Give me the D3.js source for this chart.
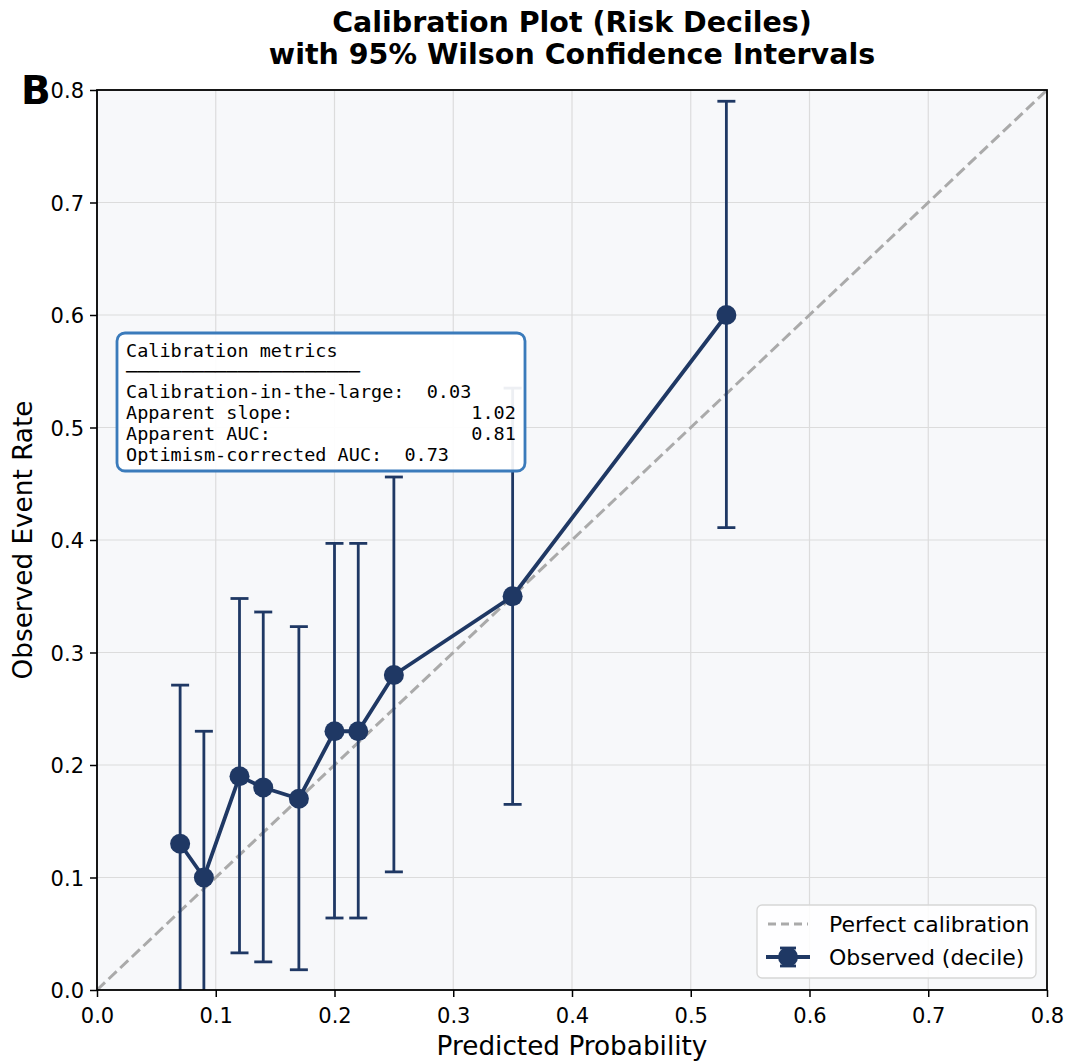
<!DOCTYPE html>
<html>
<head>
<meta charset="utf-8">
<script src="https://cdn.jsdelivr.net/npm/d3@7"></script>
<style>
  body { margin: 0; background: #fff; }
  svg { font-family: "DejaVu Sans", sans-serif; }
</style>
</head>
<body>
<svg id="chart" width="1068" height="1063"></svg>
<script>
// decile data
const predicted = [0.07, 0.09, 0.12, 0.14, 0.17, 0.20, 0.22, 0.25, 0.35, 0.53];
const observed  = [0.13, 0.10, 0.19, 0.18, 0.17, 0.23, 0.23, 0.28, 0.35, 0.60];
const ciLower   = [0.00, 0.00, 0.033, 0.025, 0.018, 0.064, 0.064, 0.105, 0.165, 0.411];
const ciUpper   = [0.271, 0.230, 0.348, 0.336, 0.323, 0.397, 0.397, 0.456, 0.535, 0.790];
const ticks     = [0, 0.1, 0.2, 0.3, 0.4, 0.5, 0.6, 0.7, 0.8];
const metricLines = [
    "Calibration metrics",
    "─".repeat(21),
    "Calibration-in-the-large:  0.03",
    "Apparent slope:                1.02",
    "Apparent AUC:                  0.81",
    "Optimism-corrected AUC:  0.73"
];

const navy = "#1f3864";
const svg = d3.select("#chart");
const margin = {top: 90, right: 21, bottom: 73, left: 97};
const W = 1068, H = 1063;
const w = W - margin.left - margin.right;
const h = H - margin.top - margin.bottom;

const x = d3.scaleLinear().domain([0, 0.8]).range([0, w]);
const y = d3.scaleLinear().domain([0, 0.8]).range([h, 0]);

const rows = predicted.map((p, i) => ({p: p, o: observed[i], lo: ciLower[i], hi: ciUpper[i]}));

const g = svg.append("g").attr("transform", `translate(${margin.left},${margin.top})`);

g.append("rect").attr("width", w).attr("height", h).attr("fill", "#f7f8fa");

// grid
g.selectAll(".gx").data(ticks).enter().append("line")
    .attr("x1", d => x(d)).attr("x2", d => x(d)).attr("y1", 0).attr("y2", h)
    .attr("stroke", "#dcdcdc").attr("stroke-width", 1.2);
g.selectAll(".gy").data(ticks).enter().append("line")
    .attr("y1", d => y(d)).attr("y2", d => y(d)).attr("x1", 0).attr("x2", w)
    .attr("stroke", "#dcdcdc").attr("stroke-width", 1.2);

// perfect calibration
g.append("line")
    .attr("x1", x(0)).attr("y1", y(0)).attr("x2", x(0.8)).attr("y2", y(0.8))
    .attr("stroke", "#aaaaaa").attr("stroke-width", 3).attr("stroke-dasharray", "11,5");

// error bars
const eb = g.selectAll(".eb").data(rows).enter().append("g");
eb.append("line")
    .attr("x1", d => x(d.p)).attr("x2", d => x(d.p))
    .attr("y1", d => y(d.lo)).attr("y2", d => y(d.hi))
    .attr("stroke", navy).attr("stroke-width", 2.8);
eb.append("line")
    .attr("x1", d => x(d.p) - 9).attr("x2", d => x(d.p) + 9)
    .attr("y1", d => y(d.hi)).attr("y2", d => y(d.hi))
    .attr("stroke", navy).attr("stroke-width", 2.8);
eb.filter(d => d.lo > 0).append("line")
    .attr("x1", d => x(d.p) - 9).attr("x2", d => x(d.p) + 9)
    .attr("y1", d => y(d.lo)).attr("y2", d => y(d.lo))
    .attr("stroke", navy).attr("stroke-width", 2.8);

// observed line + markers
const line = d3.line().x(d => x(d.p)).y(d => y(d.o));
g.append("path")
    .datum(rows)
    .attr("d", line).attr("fill", "none")
    .attr("stroke", navy).attr("stroke-width", 3.8);
g.selectAll(".pt").data(rows).enter().append("circle")
    .attr("cx", d => x(d.p)).attr("cy", d => y(d.o))
    .attr("r", 10).attr("fill", navy);

// metrics box
const bx = 117 - margin.left, by = 333 - margin.top;
g.append("rect")
    .attr("x", bx).attr("y", by).attr("width", 408).attr("height", 138)
    .attr("rx", 8).attr("fill", "#ffffff").attr("fill-opacity", 0.92)
    .attr("stroke", "#3b7bbb").attr("stroke-width", 2.8);
g.append("g").selectAll("text").data(metricLines).enter().append("text")
    .attr("x", bx + 9).attr("y", (d, i) => by + 24 + i * 20.7)
    .attr("font-family", "DejaVu Sans Mono, monospace")
    .attr("font-size", 18.5).attr("fill", "#000")
    .attr("xml:space", "preserve").style("white-space", "pre")
    .text(d => d);

// axes
const xAxis = g.append("g").attr("transform", `translate(0,${h})`)
    .call(d3.axisBottom(x).tickValues(ticks).tickFormat(d3.format(".1f")).tickSizeOuter(0).tickSize(7));
const yAxis = g.append("g")
    .call(d3.axisLeft(y).tickValues(ticks).tickFormat(d3.format(".1f")).tickSizeOuter(0).tickSize(7));
[xAxis, yAxis].forEach(a => {
    a.select(".domain").remove();
    a.selectAll("line").attr("stroke", "#000").attr("stroke-width", 1.5);
    a.selectAll("text").attr("font-size", 21).attr("font-family", "DejaVu Sans").attr("fill", "#000");
});
xAxis.selectAll("text").attr("y", 33).attr("dy", null);
yAxis.selectAll("text").attr("x", -13).attr("dy", "0.36em");

g.append("rect").attr("width", w).attr("height", h)
    .attr("fill", "none").attr("stroke", "#000").attr("stroke-width", 1.8);

// legend
const lg = svg.append("g").attr("transform", "translate(757,905)");
lg.append("rect").attr("width", 279).attr("height", 73).attr("rx", 5)
    .attr("fill", "#fff").attr("fill-opacity", 0.85)
    .attr("stroke", "#d6d6d6").attr("stroke-width", 1.3);
lg.append("line").attr("x1", 11).attr("x2", 51).attr("y1", 19).attr("y2", 19)
    .attr("stroke", "#aaaaaa").attr("stroke-width", 3).attr("stroke-dasharray", "8,5");
lg.append("text").attr("x", 72).attr("y", 27).attr("font-size", 22).text("Perfect calibration");
lg.append("line").attr("x1", 9).attr("x2", 53).attr("y1", 52).attr("y2", 52)
    .attr("stroke", navy).attr("stroke-width", 3.8);
lg.append("line").attr("x1", 31).attr("x2", 31).attr("y1", 43).attr("y2", 61)
    .attr("stroke", navy).attr("stroke-width", 2.8);
lg.append("line").attr("x1", 23).attr("x2", 39).attr("y1", 43).attr("y2", 43)
    .attr("stroke", navy).attr("stroke-width", 2.8);
lg.append("line").attr("x1", 23).attr("x2", 39).attr("y1", 61).attr("y2", 61)
    .attr("stroke", navy).attr("stroke-width", 2.8);
lg.append("circle").attr("cx", 31).attr("cy", 52).attr("r", 10).attr("fill", navy);
lg.append("text").attr("x", 72).attr("y", 60).attr("font-size", 22).text("Observed (decile)");

// axis labels
svg.append("text").attr("x", margin.left + w / 2).attr("y", 1055)
    .attr("text-anchor", "middle").attr("font-size", 26.3).text("Predicted Probability");
svg.append("text").attr("transform", `translate(32,${margin.top + h / 2}) rotate(-90)`)
    .attr("text-anchor", "middle").attr("font-size", 26.3).text("Observed Event Rate");

// title
svg.append("text").attr("x", margin.left + w / 2).attr("y", 32)
    .attr("text-anchor", "middle").attr("font-size", 28.5).attr("font-weight", "bold")
    .text("Calibration Plot (Risk Deciles)");
svg.append("text").attr("x", margin.left + w / 2).attr("y", 64)
    .attr("text-anchor", "middle").attr("font-size", 28.5).attr("font-weight", "bold")
    .text("with 95% Wilson Confidence Intervals");

// panel letter
svg.append("text").attr("x", 21).attr("y", 104)
    .attr("font-size", 39).attr("font-weight", "bold").text("B");
</script>
</body>
</html>
